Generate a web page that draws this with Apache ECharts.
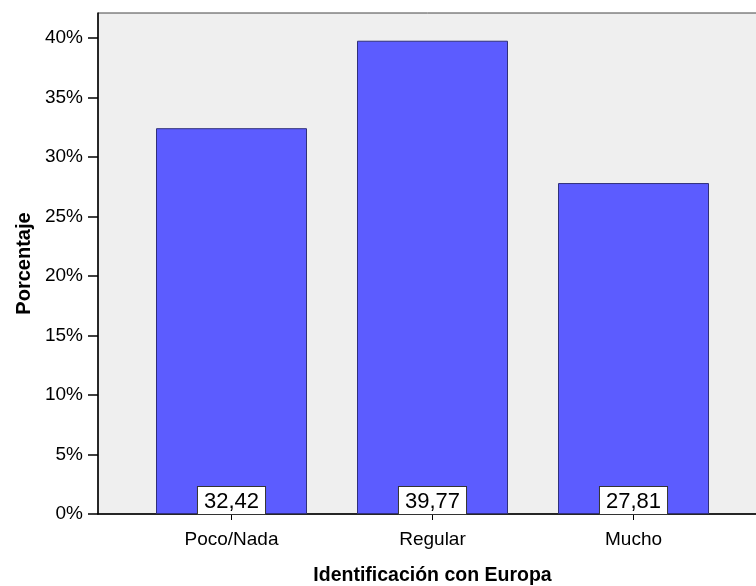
<!DOCTYPE html>
<html><head><meta charset="utf-8">
<script src="https://cdn.jsdelivr.net/npm/echarts@6/dist/echarts.min.js"></script>
<style>html,body{margin:0;padding:0;background:#fff}#c{width:756px;height:586px}</style>
</head><body><div id="c"></div>
<script>
const categories = ['Poco/Nada', 'Regular', 'Mucho'];
const values = [32.42, 39.77, 27.81];
const yTicks = [0, 5, 10, 15, 20, 25, 30, 35, 40];
const yTitle = 'Porcentaje';
const xTitle = 'Identificación con Europa';

const font = 'Arial, "Liberation Sans", sans-serif';
const chart = echarts.init(document.getElementById('c'));
chart.setOption({
  animation: false,
  grid: [
    {left: 98, right: -2, top: 13, bottom: 72, show: true, backgroundColor: '#efefef', borderColor: '#444', borderWidth: 1,
     containLabel: false, outerBoundsMode: 'none'},
    {left: 131, right: 22, top: 13, bottom: 72, containLabel: false, outerBoundsMode: 'none'}
  ],
  xAxis: [
    {gridIndex: 0, type: 'value', min: 0, max: 1, axisLabel: {show: false}, axisTick: {show: false}, splitLine: {show: false},
     axisLine: {show: true, lineStyle: {color: '#000', width: 1.5}}},
    {gridIndex: 1, type: 'category', data: categories, axisLine: {show: false},
     axisTick: {show: true, alignWithLabel: true, length: 6, lineStyle: {color: '#000'}},
     axisLabel: {fontFamily: font, fontSize: 19, color: '#000', margin: 16},
     name: xTitle, nameLocation: 'middle', nameGap: 52,
     nameTextStyle: {fontFamily: font, fontSize: 19.5, fontWeight: 'bold', color: '#000'}}
  ],
  yAxis: [
    {gridIndex: 0, type: 'value', min: 0, max: 42.1, show: false},
    {gridIndex: 1, type: 'value', min: 0, max: 42.1, interval: 5, offset: 33,
     axisLine: {show: true, lineStyle: {color: '#000', width: 1.5}},
     axisTick: {show: true, length: 10, customValues: yTicks, lineStyle: {color: '#000', width: 1.5}},
     splitLine: {show: false},
     axisLabel: {fontFamily: font, fontSize: 19, color: '#000', margin: 15, customValues: yTicks,
       formatter: v => v + '%'},
     name: yTitle, nameLocation: 'middle', nameGap: 64,
     nameTextStyle: {fontFamily: font, fontSize: 20, fontWeight: 'bold', color: '#000'}}
  ],
  series: [{
    type: 'bar', xAxisIndex: 1, yAxisIndex: 1, data: values, barWidth: 151,
    itemStyle: {color: '#5c5cff', borderColor: '#30307a', borderWidth: 1},
    label: {show: true, position: 'insideBottom', distance: 0,
      formatter: p => p.value.toFixed(2).replace('.', ','),
      fontFamily: font, fontSize: 22, color: '#000', backgroundColor: '#fff',
      borderColor: '#333', borderWidth: 1, padding: [3, 6, 0, 6], lineHeight: 24}
  }]
});
</script></body></html>
